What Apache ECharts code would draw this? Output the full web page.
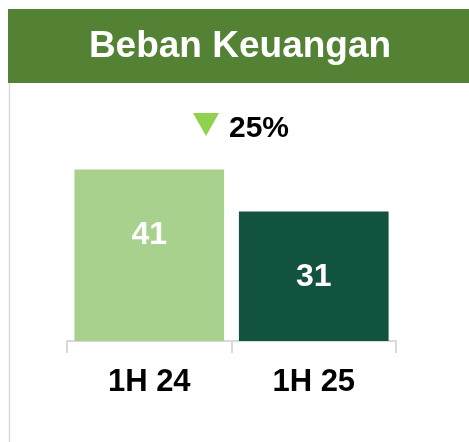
<!DOCTYPE html>
<html>
<head>
<meta charset="utf-8">
<script src="https://cdn.jsdelivr.net/npm/echarts@6/dist/echarts.min.js"></script>
<style>
html, body { margin: 0; padding: 0; background: #fff; }
#main { width: 469px; height: 442px; }
</style>
</head>
<body>
<div id="main"></div>
<script>
// data
var categories = ['1H 24', '1H 25'];
var values = [41, 31];
var barColors = ['#A9D18E', '#12533F'];
var titleText = 'Beban Keuangan';
var changeText = '25%';

var font = 'Liberation Sans, Arial, sans-serif';

var myChart = echarts.init(document.getElementById('main'));

var option = {
    animation: false,
    backgroundColor: '#fff',
    grid: { left: 67, right: 73, top: 132, bottom: 101 },
    xAxis: {
        type: 'category',
        data: categories,
        axisLine: { lineStyle: { color: '#d9d9d9', width: 2 } },
        axisTick: { show: true, length: 12, lineStyle: { color: '#d9d9d9', width: 2 } },
        axisLabel: { color: '#000', fontSize: 31, fontWeight: 'bold', fontFamily: font, margin: 26 }
    },
    yAxis: {
        type: 'value',
        min: 0,
        max: 50,
        show: false,
        splitLine: { show: false }
    },
    series: [
        {
            type: 'bar',
            barCategoryGap: '9%',
            data: values.map(function (v, i) {
                return { value: v, itemStyle: { color: barColors[i] } };
            }),
            label: {
                show: true,
                position: 'insideTop',
                distance: 50,
                color: '#fff',
                fontSize: 32,
                fontWeight: 'bold',
                fontFamily: font
            }
        }
    ],
    graphic: [
        // header band
        { type: 'rect', shape: { x: 8, y: 9, width: 461, height: 74 }, style: { fill: '#548235' }, z: 0 },
        { type: 'text', x: 240, y: 47, style: { text: titleText, fill: '#fff', font: 'bold 37px ' + font, textAlign: 'center', textVerticalAlign: 'middle' }, z: 1 },
        // left border line
        { type: 'line', shape: { x1: 9.5, y1: 83, x2: 9.5, y2: 442 }, style: { stroke: '#d9d9d9', lineWidth: 1.5 } },
        // change indicator
        { type: 'polygon', shape: { points: [[193, 113], [219, 113], [206, 136]] }, style: { fill: '#92D050' } },
        { type: 'text', x: 229, y: 129, style: { text: changeText, fill: '#000', font: 'bold 30px ' + font, textAlign: 'left', textVerticalAlign: 'middle' } }
    ]
};

myChart.setOption(option);
</script>
</body>
</html>
